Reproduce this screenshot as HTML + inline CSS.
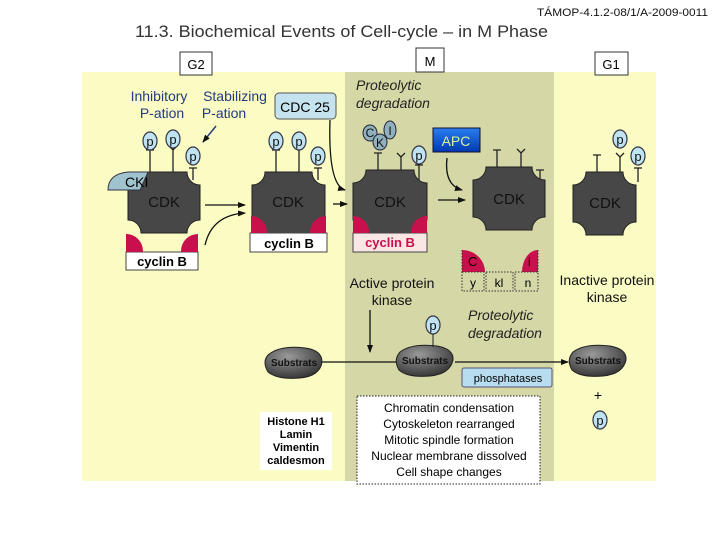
<!DOCTYPE html>
<html><head><meta charset="utf-8"><style>
body{margin:0;background:#fff;}
svg{display:block;font-family:"Liberation Sans",sans-serif;}
</style></head><body>
<svg width="720" height="540" viewBox="0 0 720 540" xmlns="http://www.w3.org/2000/svg">
<defs>
<marker id="ah" markerWidth="8" markerHeight="8" refX="7" refY="4" orient="auto" markerUnits="userSpaceOnUse"><path d="M0,1 L8,4 L0,7 Z" fill="#111"/></marker>
<linearGradient id="apc" x1="0" y1="0" x2="0" y2="1"><stop offset="0" stop-color="#2a7ef0"/><stop offset="1" stop-color="#0038b0"/></linearGradient>
<radialGradient id="sub" cx="0.4" cy="0.3" r="0.8"><stop offset="0" stop-color="#9a9a9a"/><stop offset="1" stop-color="#2a2a2a"/></radialGradient>
</defs>
<text x="537" y="16" font-size="11" textLength="171" lengthAdjust="spacingAndGlyphs" fill="#111">TÁMOP-4.1.2-08/1/A-2009-0011</text>
<text x="135" y="37" font-size="17" textLength="413" lengthAdjust="spacingAndGlyphs" fill="#333">11.3. Biochemical Events of Cell-cycle – in M Phase</text>
<rect x="82" y="72" width="574" height="409" fill="#fbfbc4"/>
<rect x="345" y="72" width="209" height="409" fill="#d6d7a6"/>
<rect x="180" y="52" width="32" height="23" fill="#fff" stroke="#333"/><text x="196" y="69" font-size="13" text-anchor="middle">G2</text>
<rect x="416" y="48" width="28" height="24" fill="#fff" stroke="#333"/><text x="430" y="66" font-size="13" text-anchor="middle">M</text>
<rect x="595" y="52" width="33" height="23" fill="#fff" stroke="#333"/><text x="611" y="69" font-size="13" text-anchor="middle">G1</text>

<g font-size="14" fill="#223a80" text-anchor="middle">
<text x="159" y="101">Inhibitory</text><text x="162" y="118">P-ation</text>
<text x="235" y="101">Stabilizing</text><text x="224" y="118">P-ation</text>
</g>
<line x1="216" y1="126" x2="203" y2="142" stroke="#223a80" stroke-width="1.5" marker-end="url(#ah)"/>
<rect x="275" y="93" width="61" height="26" rx="4" fill="#c4e3ee" stroke="#555"/><text x="305" y="112" font-size="14" text-anchor="middle">CDC 25</text>
<g font-size="14" font-style="italic" fill="#222"><text x="356" y="90">Proteolytic</text><text x="356" y="108">degradation</text>
<text x="468" y="320">Proteolytic</text><text x="468" y="338">degradation</text></g>
<rect x="433" y="128" width="47" height="24" fill="url(#apc)" stroke="#113"/><text x="456" y="146" font-size="14" fill="#d8f0a0" text-anchor="middle">APC</text>

<g stroke="#222" stroke-width="1.3" fill="none">
<path d="M150 150V172M146 150h8"/><path d="M173 150V172M169 146l4 4 4-4"/><path d="M193 168V180M189 168h8"/>
<path d="M276 150V172M272 150h8"/><path d="M299 150V172M295 146l4 4 4-4"/><path d="M318 168V180M314 168h8"/>
<path d="M378 153V170M374 153h8"/><path d="M401 157V170M397 153l4 4 4-4"/><path d="M419 165V180M415 165h8"/>
<path d="M497 150V168M493 150h8"/><path d="M521 153V168M517 149l4 4 4-4"/><path d="M540 170V183M536 170h8"/>
<path d="M597 155V172M593 155h8"/><path d="M620 157V172M616 153l4 4 4-4"/><path d="M638 168V182M634 168h8"/>
</g>
<g fill="#bfe3f0" stroke="#334" stroke-width="1.2">
<ellipse cx="150" cy="141" rx="7" ry="9"/><ellipse cx="173" cy="139" rx="7" ry="9"/><ellipse cx="193" cy="156" rx="7" ry="9"/>
<ellipse cx="276" cy="141" rx="7" ry="9"/><ellipse cx="299" cy="141" rx="7" ry="9"/><ellipse cx="318" cy="156" rx="7" ry="9"/>
<ellipse cx="419" cy="155" rx="7" ry="9"/>
<ellipse cx="620" cy="139" rx="7" ry="9"/><ellipse cx="638" cy="156" rx="7" ry="9"/>
<ellipse cx="433" cy="325" rx="7" ry="9"/><ellipse cx="600" cy="420" rx="7" ry="9"/>
</g>
<g font-size="13" text-anchor="middle" fill="#111">
<text x="150" y="146">p</text><text x="173" y="144">p</text><text x="193" y="161">p</text>
<text x="276" y="146">p</text><text x="299" y="146">p</text><text x="318" y="161">p</text>
<text x="419" y="160">p</text><text x="620" y="144">p</text><text x="638" y="161">p</text>
<text x="433" y="330">p</text><text x="600" y="425">p</text>
</g>
<g fill="#8fb0bc" stroke="#223" stroke-width="1"><ellipse cx="370" cy="133" rx="7" ry="8"/><ellipse cx="390" cy="130" rx="6" ry="9"/><ellipse cx="380" cy="142" rx="7" ry="8"/></g>
<g font-size="12" text-anchor="middle" fill="#111"><text x="370" y="137">C</text><text x="390" y="135">I</text><text x="380" y="147">K</text></g>

<g fill="#474747" stroke="#222">
<path d="M141 172H187A13 13 0 0 0 200 185V220A13 13 0 0 0 187 233H141A13 13 0 0 0 128 220V185A13 13 0 0 0 141 172Z"/>
<path d="M265 172H312A13 13 0 0 0 325 185V220A13 13 0 0 0 312 233H265A13 13 0 0 0 252 220V185A13 13 0 0 0 265 172Z"/>
<path d="M366 170H414A13 13 0 0 0 427 183V220A13 13 0 0 0 414 233H366A13 13 0 0 0 353 220V183A13 13 0 0 0 366 170Z"/>
<path d="M486 167H532A13 13 0 0 0 545 180V217A13 13 0 0 0 532 230H486A13 13 0 0 0 473 217V180A13 13 0 0 0 486 167Z"/>
<path d="M586 172H623A13 13 0 0 0 636 185V222A13 13 0 0 0 623 235H586A13 13 0 0 0 573 222V185A13 13 0 0 0 586 172Z"/>
</g>
<g font-size="15" text-anchor="middle" fill="#111">
<text x="164" y="207">CDK</text><text x="288" y="207">CDK</text><text x="390" y="207">CDK</text><text x="509" y="204">CDK</text><text x="605" y="208">CDK</text>
</g>
<path d="M108 190Q108 174 128 172H148L140 190Z" fill="#9fc3cf" stroke="#334"/><text x="125" y="187" font-size="14">CKI</text>

<rect x="126" y="252" width="72" height="18" fill="#fff" stroke="#444"/>
<path d="M126 252V234A17 17 0 0 1 143 251V252Z M198 252V234A17 17 0 0 0 181 251V252Z" fill="#c8104c"/>
<text x="162" y="266" font-size="13" font-weight="bold" text-anchor="middle">cyclin B</text>
<rect x="250" y="233" width="77" height="19" fill="#fff" stroke="#444"/>
<path d="M251 233V216A16 16 0 0 1 267 232V233Z M326 233V216A16 16 0 0 0 310 232V233Z" fill="#c8104c"/>
<text x="289" y="248" font-size="13" font-weight="bold" text-anchor="middle">cyclin B</text>
<rect x="353" y="233" width="74" height="19" fill="#fbe6e6" stroke="#444"/>
<path d="M353 233V216A16 16 0 0 1 369 232V233Z M427 233V216A16 16 0 0 0 411 232V233Z" fill="#c8104c"/>
<text x="390" y="247" font-size="13" font-weight="bold" fill="#c8104c" text-anchor="middle">cyclin B</text>

<path d="M462 272V250A23 22 0 0 1 485 272Z" fill="#c8104c"/><text x="468" y="266" font-size="13">C</text>
<path d="M538 272V250A16 22 0 0 0 522 272Z" fill="#c8104c"/><text x="528" y="266" font-size="12">i</text>
<g fill="none" stroke="#333" stroke-dasharray="1.5 1.5"><rect x="462" y="272" width="22" height="19"/><rect x="486" y="272" width="27" height="19"/><rect x="515" y="272" width="23" height="19"/><path d="M462 250V272M538 250V272"/></g>
<g font-size="12" text-anchor="middle"><text x="473" y="287">y</text><text x="499" y="287">kl</text><text x="528" y="287">n</text></g>

<g font-size="14" text-anchor="middle" fill="#111">
<text x="392" y="288">Active protein</text><text x="392" y="305">kinase</text>
<text x="607" y="285">Inactive protein</text><text x="607" y="302">kinase</text>
</g>

<g stroke="#111" stroke-width="1.3" fill="none" marker-end="url(#ah)">
<path d="M205 205H245"/><path d="M205 245Q212 215 245 213"/>
<path d="M330 120Q328 185 345 190"/><path d="M333 204H347"/>
<path d="M438 200H465"/><path d="M447 158Q444 185 462 190"/>
<path d="M320 362H405"/><path d="M370 310V352"/><path d="M455 362H568"/>
</g>

<g fill="url(#sub)" stroke="#222">
<path d="M268 355Q280 345 305 348Q322 350 322 362Q320 376 300 378Q278 380 268 372Q262 362 268 355Z"/>
<path d="M400 352Q412 343 437 346Q454 349 453 360Q450 374 430 376Q408 378 399 370Q393 360 400 352Z"/>
<path d="M573 352Q585 343 610 346Q627 349 626 360Q623 374 603 376Q581 378 572 370Q566 360 573 352Z"/>
</g>
<line x1="433" y1="334" x2="433" y2="347" stroke="#222"/>
<g font-size="10" font-weight="bold" text-anchor="middle" fill="#111"><text x="294" y="366">Substrats</text><text x="425" y="364">Substrats</text><text x="598" y="364">Substrats</text></g>
<rect x="462" y="368" width="90" height="19" rx="2" fill="#b8dcf0" stroke="#557"/><text x="508" y="382" font-size="11" text-anchor="middle">phosphatases</text>
<text x="598" y="400" font-size="14" text-anchor="middle">+</text>

<rect x="260" y="412" width="72" height="58" fill="#fff"/>
<g font-size="11" font-weight="bold" text-anchor="middle"><text x="296" y="425">Histone H1</text><text x="296" y="438">Lamin</text><text x="296" y="451">Vimentin</text><text x="296" y="464">caldesmon</text></g>
<rect x="357" y="396" width="183" height="88" fill="#fff" stroke="#222" stroke-dasharray="1.5 1.5"/>
<g font-size="12" text-anchor="middle"><text x="449" y="412">Chromatin condensation</text><text x="449" y="428">Cytoskeleton rearranged</text><text x="449" y="444">Mitotic spindle formation</text><text x="449" y="460">Nuclear membrane dissolved</text><text x="449" y="476">Cell shape changes</text></g>
</svg>
</body></html>
